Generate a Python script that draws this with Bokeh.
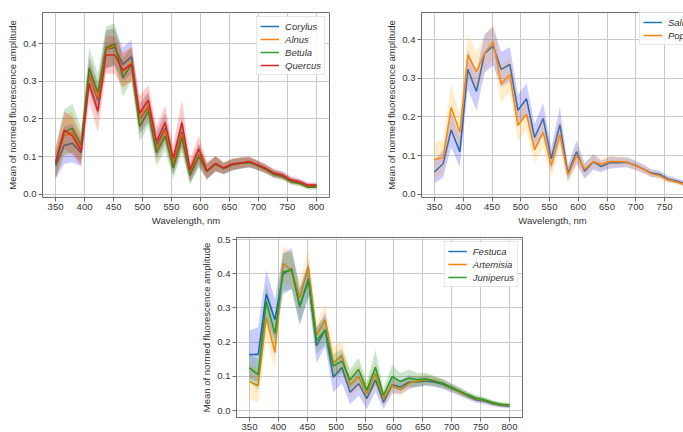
from bokeh.plotting import figure
from bokeh.layouts import column, row
from bokeh.models import (Spacer, FixedTicker, NumeralTickFormatter, Legend,
                          LegendItem, LinearAxis, Range1d)
from bokeh.embed import file_html
from bokeh.resources import INLINE

# Excitation wavelengths (nm)
wavelength = [350, 365, 379, 394, 408, 423, 437, 452, 466, 481, 495, 510, 524, 539, 553, 568,
              582, 597, 611, 626, 640, 655, 669, 684, 698, 713, 727, 742, 756, 771, 785, 800]

# Panel 1: tree pollen
corylus = [0.075, 0.13, 0.135, 0.11, 0.32, 0.25, 0.385, 0.39, 0.345, 0.365, 0.20, 0.23, 0.13, 0.175, 0.08, 0.165,
           0.055, 0.105, 0.06, 0.08, 0.068, 0.078, 0.082, 0.085, 0.077, 0.067, 0.055, 0.05, 0.037, 0.032, 0.023, 0.022]
corylus_sd = [0.035, 0.05, 0.05, 0.035, 0.045, 0.045, 0.05, 0.05, 0.045, 0.045, 0.04, 0.04, 0.035, 0.04, 0.03, 0.04,
              0.025, 0.03, 0.02, 0.02, 0.015, 0.015, 0.015, 0.014, 0.012, 0.011, 0.01, 0.009, 0.008, 0.007, 0.006, 0.006]
alnus = [0.085, 0.155, 0.165, 0.12, 0.32, 0.255, 0.385, 0.395, 0.325, 0.35, 0.20, 0.235, 0.12, 0.17, 0.08, 0.16,
         0.055, 0.105, 0.06, 0.08, 0.068, 0.08, 0.083, 0.085, 0.077, 0.066, 0.054, 0.048, 0.035, 0.03, 0.02, 0.02]
alnus_sd = [0.04, 0.055, 0.055, 0.04, 0.045, 0.045, 0.05, 0.05, 0.045, 0.045, 0.04, 0.04, 0.035, 0.04, 0.03, 0.04,
            0.025, 0.03, 0.02, 0.02, 0.015, 0.015, 0.014, 0.013, 0.012, 0.011, 0.01, 0.009, 0.008, 0.007, 0.006, 0.006]
betula = [0.08, 0.165, 0.175, 0.13, 0.335, 0.27, 0.39, 0.40, 0.31, 0.345, 0.18, 0.22, 0.11, 0.155, 0.07, 0.15,
          0.05, 0.10, 0.06, 0.08, 0.068, 0.078, 0.082, 0.084, 0.076, 0.065, 0.052, 0.046, 0.033, 0.028, 0.018, 0.018]
betula_sd = [0.04, 0.06, 0.065, 0.045, 0.055, 0.05, 0.055, 0.055, 0.05, 0.045, 0.04, 0.04, 0.035, 0.04, 0.03, 0.04,
             0.025, 0.03, 0.02, 0.02, 0.015, 0.015, 0.014, 0.013, 0.012, 0.011, 0.01, 0.009, 0.008, 0.007, 0.006, 0.006]
quercus = [0.085, 0.17, 0.155, 0.115, 0.295, 0.22, 0.37, 0.37, 0.33, 0.345, 0.215, 0.25, 0.14, 0.19, 0.095, 0.19,
           0.065, 0.12, 0.062, 0.082, 0.07, 0.08, 0.083, 0.087, 0.078, 0.068, 0.056, 0.05, 0.038, 0.033, 0.024, 0.024]
quercus_sd = [0.04, 0.05, 0.05, 0.04, 0.05, 0.055, 0.05, 0.05, 0.045, 0.045, 0.045, 0.04, 0.04, 0.045, 0.035, 0.06,
              0.03, 0.035, 0.025, 0.02, 0.015, 0.015, 0.015, 0.014, 0.013, 0.012, 0.011, 0.01, 0.009, 0.008, 0.007, 0.007]

# Panel 2: willow and poplar
salix = [0.058, 0.079, 0.167, 0.11, 0.323, 0.266, 0.364, 0.383, 0.323, 0.336, 0.217, 0.247, 0.147, 0.196, 0.092, 0.18,
         0.055, 0.11, 0.06, 0.084, 0.072, 0.082, 0.082, 0.083, 0.076, 0.066, 0.055, 0.052, 0.04, 0.035, 0.028, 0.025]
salix_sd = [0.03, 0.035, 0.045, 0.04, 0.05, 0.05, 0.05, 0.05, 0.045, 0.045, 0.04, 0.04, 0.035, 0.04, 0.03, 0.045,
            0.02, 0.03, 0.02, 0.02, 0.015, 0.015, 0.014, 0.013, 0.012, 0.011, 0.01, 0.009, 0.008, 0.007, 0.006, 0.006]
populus = [0.09, 0.095, 0.225, 0.16, 0.36, 0.317, 0.365, 0.395, 0.285, 0.31, 0.178, 0.207, 0.115, 0.16, 0.075, 0.155,
           0.05, 0.10, 0.065, 0.085, 0.078, 0.085, 0.085, 0.084, 0.075, 0.065, 0.053, 0.048, 0.037, 0.032, 0.025, 0.022]
populus_sd = [0.045, 0.045, 0.06, 0.045, 0.055, 0.05, 0.045, 0.045, 0.05, 0.045, 0.04, 0.04, 0.035, 0.04, 0.03, 0.04,
              0.02, 0.025, 0.018, 0.018, 0.015, 0.015, 0.013, 0.012, 0.011, 0.01, 0.009, 0.008, 0.007, 0.006, 0.006, 0.005]

# Panel 3: grasses, weeds and juniper
festuca = [0.164, 0.164, 0.34, 0.266, 0.40, 0.415, 0.304, 0.386, 0.19, 0.237, 0.098, 0.126, 0.054, 0.079, 0.035, 0.09,
           0.024, 0.076, 0.069, 0.083, 0.084, 0.087, 0.084, 0.077, 0.066, 0.055, 0.043, 0.032, 0.028, 0.02, 0.015, 0.013]
festuca_sd = [0.07, 0.08, 0.07, 0.06, 0.06, 0.06, 0.055, 0.05, 0.05, 0.05, 0.045, 0.045, 0.035, 0.035, 0.03, 0.035,
              0.02, 0.025, 0.02, 0.02, 0.015, 0.015, 0.014, 0.013, 0.012, 0.011, 0.01, 0.009, 0.008, 0.007, 0.006, 0.006]
artemisia = [0.085, 0.073, 0.27, 0.17, 0.43, 0.41, 0.33, 0.42, 0.22, 0.265, 0.14, 0.16, 0.075, 0.10, 0.05, 0.108,
             0.035, 0.075, 0.06, 0.08, 0.086, 0.09, 0.088, 0.08, 0.068, 0.056, 0.045, 0.035, 0.03, 0.022, 0.017, 0.015]
artemisia_sd = [0.05, 0.05, 0.06, 0.05, 0.05, 0.05, 0.05, 0.05, 0.04, 0.045, 0.045, 0.045, 0.035, 0.035, 0.03, 0.035,
                0.02, 0.025, 0.018, 0.018, 0.015, 0.015, 0.013, 0.012, 0.011, 0.01, 0.009, 0.008, 0.007, 0.006, 0.006, 0.005]
juniperus = [0.125, 0.105, 0.32, 0.225, 0.405, 0.41, 0.305, 0.38, 0.205, 0.235, 0.13, 0.145, 0.09, 0.12, 0.06, 0.127,
             0.045, 0.10, 0.085, 0.095, 0.09, 0.093, 0.087, 0.08, 0.07, 0.058, 0.047, 0.037, 0.032, 0.024, 0.019, 0.017]
juniperus_sd = [0.04, 0.045, 0.05, 0.045, 0.055, 0.055, 0.05, 0.05, 0.04, 0.04, 0.035, 0.035, 0.03, 0.035, 0.025, 0.05,
                0.02, 0.035, 0.025, 0.025, 0.02, 0.018, 0.015, 0.014, 0.012, 0.011, 0.01, 0.009, 0.008, 0.007, 0.006, 0.006]

x_ticks = [350, 400, 450, 500, 550, 600, 650, 700, 750, 800]
y_ticks = [0.0, 0.1, 0.2, 0.3, 0.4, 0.5]

LINE_COLORS = ["#1f77b4", "#ff7f0e", "#2ca02c", "#d62728"]
BAND_COLORS = ["blue", "orange", "green", "red"]
FONT = "Liberation Sans"
TEXT = "#333333"
SPINE = "#6e6e6e"


def make_panel(width, height, x_range, y_range, borders, outline=True, xlabel=True):
    left, right, top, bottom = borders
    p = figure(width=width, height=height, x_range=x_range, y_range=y_range,
               output_backend="svg", toolbar_location=None,
               min_border_left=left, min_border_right=right,
               min_border_top=top, min_border_bottom=bottom)
    p.background_fill_color = "white"
    p.border_fill_color = "white"
    p.outline_line_color = SPINE if outline else None
    p.outline_line_width = 1
    for ax in (p.xaxis, p.yaxis):
        ax.axis_line_color = SPINE
        ax.major_tick_line_color = SPINE
        ax.major_tick_in = 0
        ax.major_tick_out = 4
        ax.minor_tick_line_color = None
        ax.major_label_text_font = FONT
        ax.major_label_text_font_size = "9.5px"
        ax.major_label_text_color = TEXT
        ax.major_label_standoff = 2
        ax.axis_label_text_font = FONT
        ax.axis_label_text_font_size = "9.5px"
        ax.axis_label_text_font_style = "normal"
        ax.axis_label_text_color = TEXT
        ax.axis_label_standoff = 2
    p.xaxis.ticker = FixedTicker(ticks=x_ticks)
    p.yaxis.ticker = FixedTicker(ticks=y_ticks)
    p.yaxis.formatter = NumeralTickFormatter(format="0.0")
    if xlabel:
        p.xaxis.axis_label = "Wavelength, nm"
    p.yaxis.axis_label = "Mean of normed fluorescence amplitude"
    p.grid.grid_line_color = "#c9c9c9"
    p.grid.grid_line_width = 1
    return p


def add_series(p, names, means, sds):
    items = []
    for i, (name, m, s) in enumerate(zip(names, means, sds)):
        r = p.line(wavelength, m, line_color=LINE_COLORS[i], line_width=1.5)
        lo = [a - b for a, b in zip(m, s)]
        hi = [a + b for a, b in zip(m, s)]
        p.varea(x=wavelength, y1=lo, y2=hi, fill_color=BAND_COLORS[i], fill_alpha=0.2)
        items.append(LegendItem(label=name, renderers=[r]))
    return items


def style_legend(items, location):
    return Legend(items=items, location=location,
                  label_text_font=FONT, label_text_font_size="9.5px",
                  label_text_font_style="italic", label_text_color=TEXT,
                  label_height=12, glyph_height=12, glyph_width=19,
                  label_standoff=6, spacing=1, padding=3, margin=4,
                  border_line_color="#cccccc", background_fill_alpha=0.85)


# Top-left panel
p1 = make_panel(345, 232, Range1d(327.5, 822.5), Range1d(-0.009, 0.483), (42, 16, 12, 35))
leg1 = style_legend(add_series(p1, ["Corylus", "Alnus", "Betula", "Quercus"],
                               [corylus, alnus, betula, quercus],
                               [corylus_sd, alnus_sd, betula_sd, quercus_sd]), "top_right")
p1.add_layout(leg1)

# Top-right panel (runs off the right edge of the page)
p2 = make_panel(338, 232, Range1d(327.4, 783.0), Range1d(-0.008, 0.47), (76, 0, 12, 35), outline=False)
top_spine = LinearAxis(ticker=FixedTicker(ticks=[]), major_tick_line_color=None,
                       minor_tick_line_color=None, major_tick_out=0, major_tick_in=0,
                       major_label_standoff=0, axis_line_color=SPINE)
p2.add_layout(top_spine, "above")
leg2 = style_legend(add_series(p2, ["Salix", "Populus"], [salix, populus], [salix_sd, populus_sd]),
                    (218, 152))
p2.add_layout(leg2)

# Bottom panel
p3 = make_panel(342, 200, Range1d(327.5, 822.5), Range1d(-0.02, 0.506), (46, 10, 5, 0), xlabel=False)
leg3 = style_legend(add_series(p3, ["Festuca", "Artemisia", "Juniperus"],
                               [festuca, artemisia, juniperus],
                               [festuca_sd, artemisia_sd, juniperus_sd]), "top_right")
p3.add_layout(leg3)

layout = column(row(p1, p2), row(Spacer(width=190, height=200), p3))

open("out.html", "w").write(file_html(layout, INLINE))
